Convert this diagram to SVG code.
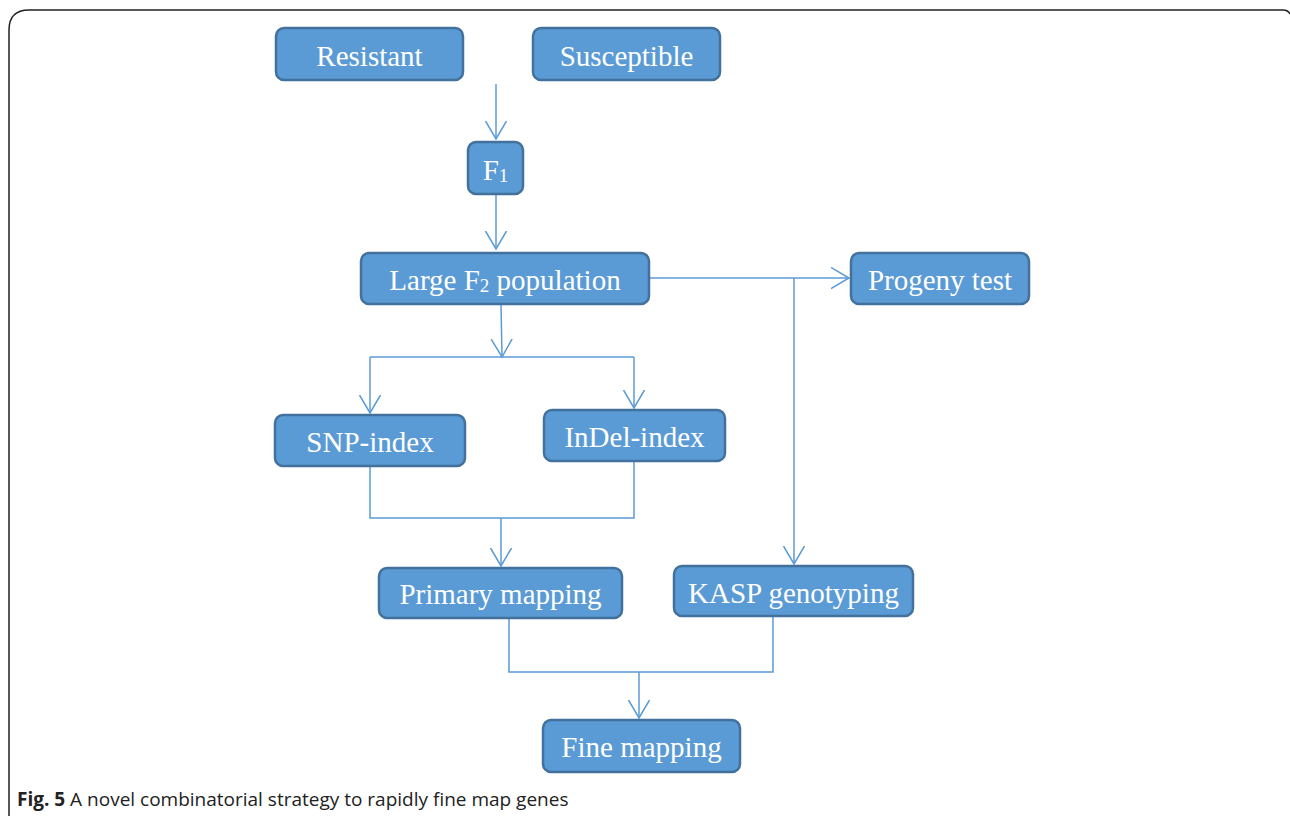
<svg xmlns="http://www.w3.org/2000/svg" width="1290" height="816" viewBox="0 0 1290 816">
<style>
.box{fill:#5b9bd5;stroke:#41719c;stroke-width:2.5}
.lbl{font-family:"Liberation Serif","Times New Roman",serif;font-size:29px;fill:#ffffff;text-anchor:middle}
.sub{font-size:19px}
.con{fill:none;stroke:#5b9bd5;stroke-width:1.5}
.cap{font-family:"Open Sans","Liberation Sans",sans-serif;font-size:19px;fill:#222}
</style>
<defs>
<marker id="arr" markerUnits="userSpaceOnUse" markerWidth="22" markerHeight="24" refX="18" refY="11" orient="auto">
<path d="M0,0.5 L18,11 L0,21.5" fill="none" stroke="#5b9bd5" stroke-width="1.5"/>
</marker>
</defs>
<rect width="1290" height="816" fill="#ffffff"/>
<path d="M9,816 L9,30 Q9,10 29,10 L1283,10 Q1288,10 1290,14" fill="none" stroke="#222" stroke-width="1.5"/>

<g id="connectors">
<path class="con" d="M496,84 L496,139" marker-end="url(#arr)"/>
<path class="con" d="M496,194 L496,249" marker-end="url(#arr)"/>
<path class="con" d="M501,304 L502,357" marker-end="url(#arr)"/>
<path class="con" d="M370,357 L634,357"/>
<path class="con" d="M370,357 L370,413" marker-end="url(#arr)"/>
<path class="con" d="M634,357 L634,408" marker-end="url(#arr)"/>
<path class="con" d="M649,278 L849,278" marker-end="url(#arr)"/>
<path class="con" d="M794,278 L794,564" marker-end="url(#arr)"/>
<path class="con" d="M370,466 L370,518 L634,518 L634,461"/>
<path class="con" d="M501,518 L501,566" marker-end="url(#arr)"/>
<path class="con" d="M509,618 L509,672 L773,672 L773,616"/>
<path class="con" d="M639,672 L639,718" marker-end="url(#arr)"/>
</g>

<g id="resistant"><rect class="box" x="276" y="28" width="187" height="52" rx="8"/><text class="lbl" x="369.5" y="66">Resistant</text></g>
<g id="susceptible"><rect class="box" x="533" y="28" width="187" height="52" rx="8"/><text class="lbl" x="626.5" y="66">Susceptible</text></g>
<g id="f1"><rect class="box" x="468" y="142" width="55" height="52" rx="8"/><text class="lbl" x="495.5" y="180">F<tspan class="sub" dy="2">1</tspan></text></g>
<g id="f2"><rect class="box" x="361" y="253" width="288" height="51" rx="8"/><text class="lbl" x="505" y="290">Large F<tspan class="sub" dy="2">2</tspan><tspan dy="-2"> population</tspan></text></g>
<g id="progeny"><rect class="box" x="851" y="253" width="178" height="51" rx="8"/><text class="lbl" x="940" y="290">Progeny test</text></g>
<g id="snp"><rect class="box" x="275" y="415" width="190" height="51" rx="8"/><text class="lbl" x="370" y="452">SNP-index</text></g>
<g id="indel"><rect class="box" x="544" y="410" width="181" height="51" rx="8"/><text class="lbl" x="634.5" y="447">InDel-index</text></g>
<g id="primary"><rect class="box" x="379" y="568" width="243" height="50" rx="8"/><text class="lbl" x="500.5" y="604">Primary mapping</text></g>
<g id="kasp"><rect class="box" x="674" y="566" width="239" height="50" rx="8"/><text class="lbl" x="793.5" y="603">KASP genotyping</text></g>
<g id="fine"><rect class="box" x="543" y="720" width="197" height="52" rx="8"/><text class="lbl" x="641.5" y="757">Fine mapping</text></g>

<text class="cap" x="17" y="806"><tspan font-weight="bold">Fig. 5</tspan> A novel combinatorial strategy to rapidly fine map genes</text>
</svg>
